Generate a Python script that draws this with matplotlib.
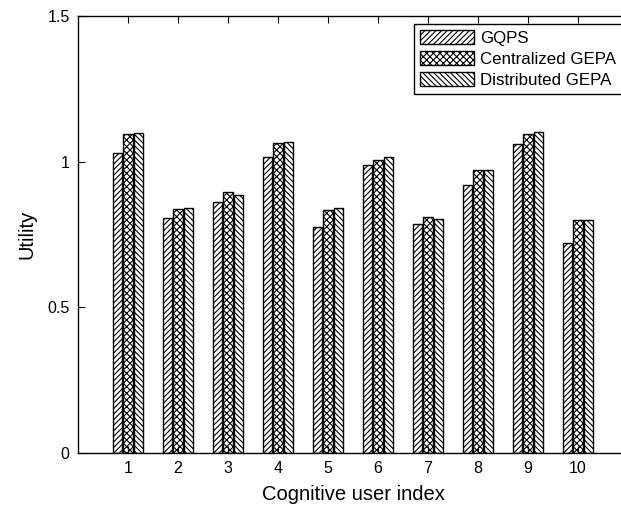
import numpy as np
import matplotlib.pyplot as plt

plt.rcParams['font.family'] = ['Liberation Sans', 'DejaVu Sans']
plt.rcParams['hatch.linewidth'] = 0.8

# utility of each cognitive user under the three schemes
users = np.arange(1, 11)
gqps = [1.031, 0.806, 0.863, 1.017, 0.775, 0.990, 0.787, 0.919, 1.060, 0.722]
central_gepa = [1.095, 0.837, 0.897, 1.063, 0.835, 1.006, 0.809, 0.970, 1.094, 0.800]
distrib_gepa = [1.100, 0.840, 0.885, 1.069, 0.840, 1.016, 0.804, 0.970, 1.103, 0.800]

series = [('GQPS', gqps, '//////'),
          ('Centralized GEPA', central_gepa, 'xxxxx'),
          ('Distributed GEPA', distrib_gepa, '\\\\\\\\\\\\')]

fig = plt.figure(figsize=(6.21, 5.07), dpi=100)
ax = fig.add_axes([78/621, 54/507, 550/621, 437/507])

w = 0.19
offs = [-0.21, 0.0, 0.21]
for (name, vals, hatch), off in zip(series, offs):
    ax.bar(users + off, vals, width=w, facecolor='white', edgecolor='black',
           linewidth=1.0, hatch=hatch, label=name)

ax.set_xlim(0, 11)
ax.set_ylim(0, 1.5)
ax.set_xticks(users)
ax.set_yticks([0, 0.5, 1, 1.5])
ax.set_yticklabels(['0', '0.5', '1', '1.5'])
ax.tick_params(direction='in', top=True, right=True, length=5,
               labelsize=11.5, colors='black', pad=6)
for sp in ax.spines.values():
    sp.set_linewidth(1.0)

ax.set_xlabel('Cognitive user index', fontsize=14.5, labelpad=6)
ax.set_ylabel('Utility', fontsize=14.5, labelpad=8)

leg = ax.legend(loc='upper left', bbox_to_anchor=(414/621, 1 - 24/507),
                bbox_transform=fig.transFigure, fontsize=12.2, fancybox=False,
                edgecolor='black', framealpha=1, handlelength=3.2,
                handleheight=0.9, handletextpad=0.35, borderpad=0.35,
                labelspacing=0.3, borderaxespad=0)
leg.get_frame().set_linewidth(1.0)

fig.savefig('out.png', dpi=100)
